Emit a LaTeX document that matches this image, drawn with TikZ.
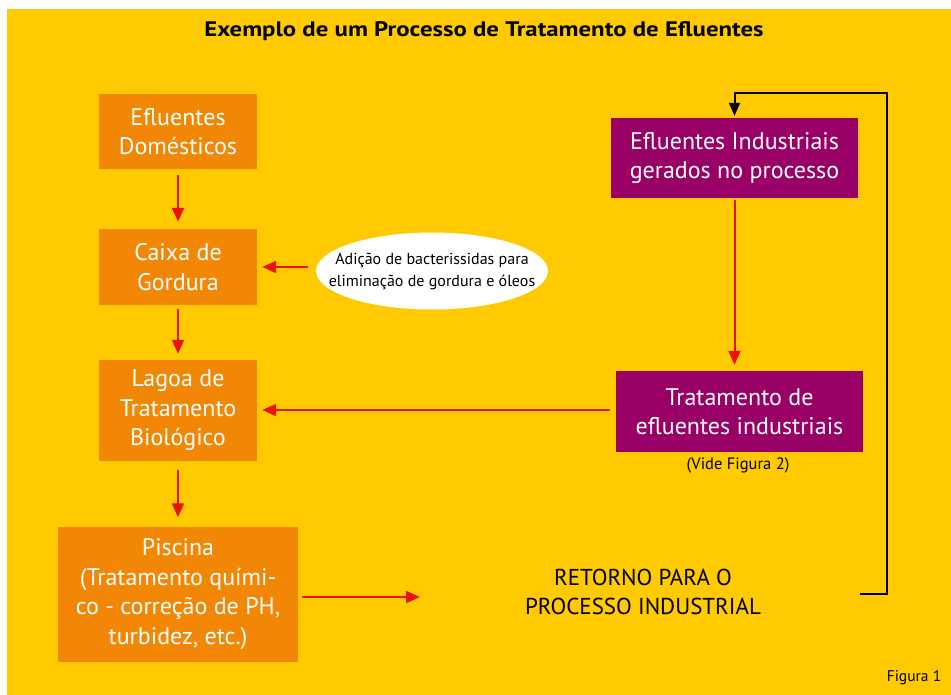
\documentclass[tikz,border=0pt]{standalone}
\usepackage{fontspec}
\setmainfont{PT Sans}
\usetikzlibrary{arrows.meta,shapes.geometric}
\definecolor{bgyellow}{HTML}{FFCA00}
\definecolor{boxorange}{HTML}{F28705}
\definecolor{boxpurple}{HTML}{990066}
\definecolor{arrred}{HTML}{E8140C}
\begin{document}
\begin{tikzpicture}[x=1pt,y=-1pt,
  obox/.style={fill=boxorange,text=white,inner sep=0pt,align=center,font=\fontsize{24}{29.5}\selectfont},
  pbox/.style={fill=boxpurple,text=white,inner sep=0pt,align=center,font=\fontsize{24}{29.5}\selectfont},
  redarr/.style={draw=arrred,line width=2pt,-{Triangle[length=14pt,width=12pt]}},
  blkarr/.style={draw=black,line width=2pt,-{Triangle[length=13pt,width=11pt]}},
  lbl/.style={inner sep=0pt,align=center}]
\useasboundingbox (0,0) rectangle (951,695);
\fill[bgyellow] (7,9) rectangle (951,695);
\node[lbl,font=\fontsize{21}{24}\selectfont\bfseries] (title) at (484,31) {\scalebox{1.18}[1]{Exemplo de um Processo de Tratamento de Efluentes}};
\node[obox,minimum width=158pt,minimum height=75pt] (dom) at (178,131.5) {Efluentes\\Domésticos};
\node[obox,minimum width=158pt,minimum height=76pt] (cai) at (178,267) {Caixa de\\Gordura};
\node[obox,minimum width=158pt,minimum height=101pt] (lag) at (178,410.5) {Lagoa de\\Tratamento\\Biológico};
\node[obox,minimum width=240pt,minimum height=135pt] (pis) at (178,594) {Piscina\\(Tratamento quími-\\co - correção de PH,\\turbidez, etc.)};
\node[pbox,minimum width=247pt,minimum height=80pt] (ei) at (734.5,158) {Efluentes Industriais\\gerados no processo};
\node[pbox,minimum width=247pt,minimum height=81pt] (tr) at (739.5,411.5) {Tratamento de\\efluentes industriais};
\node[ellipse,fill=white,minimum width=232pt,minimum height=77pt,inner sep=0pt] (ell) at (432,271) {};
\node[lbl,font=\fontsize{16}{22}\selectfont] (elltext) at (ell.center) {Adição de bacterissidas para\\eliminação de gordura e óleos};
\node[lbl,font=\fontsize{16.5}{20}\selectfont] (vide) at (738,465) {(Vide Figura 2)};
\node[lbl,font=\fontsize{23}{29}\selectfont] (ret) at (643,592) {RETORNO PARA O\\PROCESSO INDUSTRIAL};
\node[lbl,font=\fontsize{15.5}{18}\selectfont] (fig) at (914,678) {Figura 1};
\coordinate (pisend) at (420,597);
\coordinate (loopstart) at (860,594);
\coordinate (loopcorner) at (887,93);
\draw[redarr,shorten <=6pt,shorten >=7pt] (dom) -- (cai);
\draw[redarr,shorten <=4pt,shorten >=6pt] (cai) -- (lag);
\draw[redarr,shorten <=9pt,shorten >=9pt] (lag) -- (pis);
\draw[redarr,shorten <=8pt,shorten >=5pt] (ell.west |- cai.east) -- (cai.east);
\draw[redarr,shorten <=6pt,shorten >=5pt] (tr.west |- 0,410) -- (lag.east |- 0,410);
\draw[redarr,shorten <=2pt,shorten >=6pt] (ei.south) -- (ei.south |- tr.north);
\draw[redarr,shorten <=4pt] (pis.east |- pisend) -- (pisend);
\draw[blkarr,shorten >=2pt] (loopstart) -| (loopcorner) -| (ei.north);
\end{tikzpicture}
\end{document}
